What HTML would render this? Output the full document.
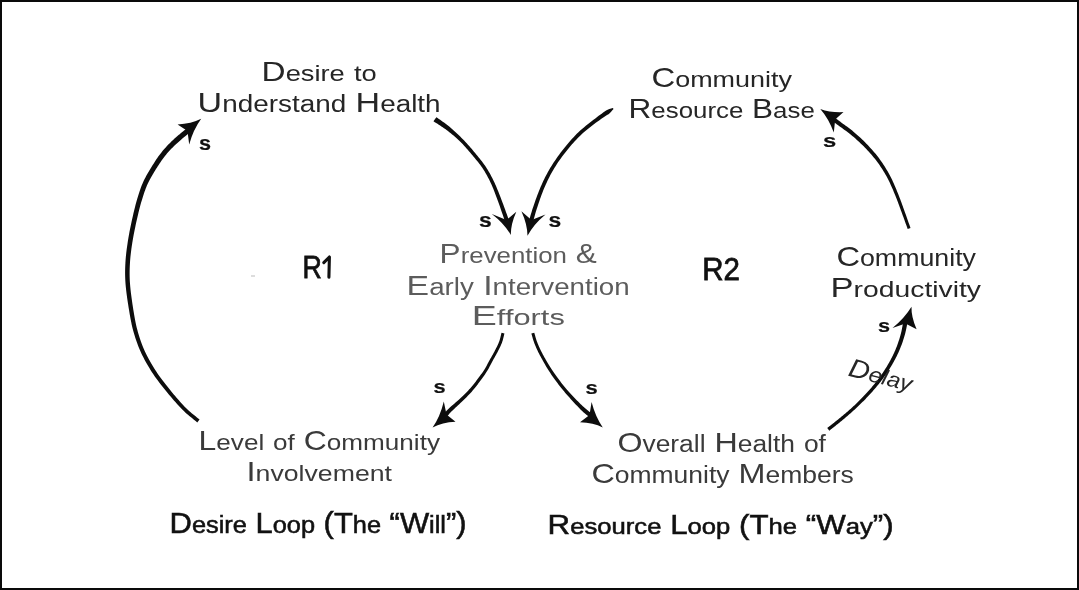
<!DOCTYPE html>
<html><head><meta charset="utf-8"><style>
html,body{margin:0;padding:0;background:#fff;}
body{width:1079px;height:590px;overflow:hidden;position:relative;}
.frame{position:absolute;left:0;top:0;width:1079px;height:590px;box-sizing:border-box;border:2px solid #0a0a0a;}
svg{position:absolute;left:0;top:0;will-change:transform;}
text{font-family:"Liberation Sans",sans-serif;}
</style></head><body>
<div class="frame"></div>
<svg width="1079" height="590" viewBox="0 0 1079 590">
<text x="261.60" y="80.50" font-size="28" font-weight="normal" font-style="normal" fill="#262626" textLength="115.21" lengthAdjust="spacingAndGlyphs">D<tspan font-size="22.96">esire</tspan> <tspan font-size="22.96">to</tspan></text>
<text x="197.60" y="112.00" font-size="28.5" font-weight="normal" font-style="normal" fill="#262626" textLength="243.00" lengthAdjust="spacingAndGlyphs">U<tspan font-size="23.37">nderstand</tspan> H<tspan font-size="23.37">ealth</tspan></text>
<text x="651.40" y="87.20" font-size="28" font-weight="normal" font-style="normal" fill="#262626" textLength="140.58" lengthAdjust="spacingAndGlyphs">C<tspan font-size="22.96">ommunity</tspan></text>
<text x="628.60" y="118.00" font-size="27" font-weight="normal" font-style="normal" fill="#262626" textLength="186.18" lengthAdjust="spacingAndGlyphs">R<tspan font-size="22.14">esource</tspan> B<tspan font-size="22.14">ase</tspan></text>
<text x="439.60" y="263.00" font-size="28" font-weight="normal" font-style="normal" fill="#5c5c5c" textLength="157.22" lengthAdjust="spacingAndGlyphs">P<tspan font-size="22.96">revention</tspan> &amp;</text>
<text x="406.60" y="294.70" font-size="28.5" font-weight="normal" font-style="normal" fill="#5c5c5c" textLength="223.03" lengthAdjust="spacingAndGlyphs">E<tspan font-size="23.37">arly</tspan> I<tspan font-size="23.37">ntervention</tspan></text>
<text x="471.80" y="324.80" font-size="28" font-weight="normal" font-style="normal" fill="#5c5c5c" textLength="93.01" lengthAdjust="spacingAndGlyphs">E<tspan font-size="22.96">fforts</tspan></text>
<text x="836.40" y="265.70" font-size="28.5" font-weight="normal" font-style="normal" fill="#262626" textLength="139.61" lengthAdjust="spacingAndGlyphs">C<tspan font-size="23.37">ommunity</tspan></text>
<text x="830.60" y="297.30" font-size="28" font-weight="normal" font-style="normal" fill="#262626" textLength="150.40" lengthAdjust="spacingAndGlyphs">P<tspan font-size="22.96">roductivity</tspan></text>
<text x="198.60" y="450.20" font-size="28" font-weight="normal" font-style="normal" fill="#3a3a3a" textLength="241.38" lengthAdjust="spacingAndGlyphs">L<tspan font-size="22.96">evel</tspan> <tspan font-size="22.96">of</tspan> C<tspan font-size="22.96">ommunity</tspan></text>
<text x="246.60" y="481.00" font-size="28" font-weight="normal" font-style="normal" fill="#3a3a3a" textLength="145.38" lengthAdjust="spacingAndGlyphs">I<tspan font-size="22.96">nvolvement</tspan></text>
<text x="617.40" y="451.50" font-size="28.5" font-weight="normal" font-style="normal" fill="#3a3a3a" textLength="208.52" lengthAdjust="spacingAndGlyphs">O<tspan font-size="23.37">verall</tspan> H<tspan font-size="23.37">ealth</tspan> <tspan font-size="23.37">of</tspan></text>
<text x="591.40" y="482.60" font-size="28.5" font-weight="normal" font-style="normal" fill="#3a3a3a" textLength="262.41" lengthAdjust="spacingAndGlyphs">C<tspan font-size="23.37">ommunity</tspan> M<tspan font-size="23.37">embers</tspan></text>
<text x="169.60" y="533.00" font-size="29" font-weight="normal" font-style="normal" fill="#111111" stroke="#111111" stroke-width="0.55" textLength="297.00" lengthAdjust="spacingAndGlyphs">D<tspan font-size="23.78">esire</tspan> L<tspan font-size="23.78">oop</tspan> (T<tspan font-size="23.78">he</tspan> “W<tspan font-size="23.78">ill</tspan>”)</text>
<text x="547.60" y="534.30" font-size="28" font-weight="normal" font-style="normal" fill="#111111" stroke="#111111" stroke-width="0.55" textLength="346.03" lengthAdjust="spacingAndGlyphs">R<tspan font-size="22.96">esource</tspan> L<tspan font-size="22.96">oop</tspan> (T<tspan font-size="22.96">he</tspan> “W<tspan font-size="22.96">ay</tspan>”)</text>
<text x="302.50" y="278.00" font-size="32" font-weight="normal" font-style="normal" fill="#111111" stroke="#111111" stroke-width="0.8" textLength="19.29" lengthAdjust="spacingAndGlyphs">R</text>
<text x="702.16" y="279.60" font-size="31" font-weight="normal" font-style="normal" fill="#111111" stroke="#111111" stroke-width="0.8" textLength="37.64" lengthAdjust="spacingAndGlyphs">R2</text>
<text x="199.10" y="150.01" font-size="19.45" font-weight="bold" fill="#111" stroke="#111" stroke-width="0.2" textLength="12.03" lengthAdjust="spacingAndGlyphs">s</text>
<text x="479.10" y="226.61" font-size="19.45" font-weight="bold" fill="#111" stroke="#111" stroke-width="0.2" textLength="12.73" lengthAdjust="spacingAndGlyphs">s</text>
<text x="548.60" y="226.61" font-size="19.45" font-weight="bold" fill="#111" stroke="#111" stroke-width="0.2" textLength="12.73" lengthAdjust="spacingAndGlyphs">s</text>
<text x="433.60" y="393.42" font-size="17.82" font-weight="bold" fill="#111" stroke="#111" stroke-width="0.2" textLength="12.13" lengthAdjust="spacingAndGlyphs">s</text>
<text x="585.40" y="394.41" font-size="18.55" font-weight="bold" fill="#111" stroke="#111" stroke-width="0.2" textLength="12.23" lengthAdjust="spacingAndGlyphs">s</text>
<text x="877.90" y="331.81" font-size="18.55" font-weight="bold" fill="#111" stroke="#111" stroke-width="0.2" textLength="12.03" lengthAdjust="spacingAndGlyphs">s</text>
<text x="822.90" y="146.71" font-size="18.91" font-weight="bold" fill="#111" stroke="#111" stroke-width="0.2" textLength="13.23" lengthAdjust="spacingAndGlyphs">s</text>
<path d="M199.56,419.62 L198.23,418.51 L196.91,417.42 L195.59,416.35 L194.28,415.29 L192.98,414.23 L191.68,413.15 L190.38,412.05 L189.09,410.92 L187.79,409.73 L186.49,408.48 L184.91,406.90 L183.30,405.23 L181.68,403.50 L180.05,401.70 L178.41,399.86 L176.78,397.97 L175.15,396.06 L173.54,394.14 L171.94,392.21 L170.37,390.30 L168.78,388.33 L167.19,386.35 L165.60,384.35 L164.03,382.33 L162.48,380.30 L160.95,378.26 L159.46,376.21 L158.00,374.15 L156.60,372.10 L155.25,370.03 L153.99,368.05 L152.77,366.06 L151.58,364.06 L150.42,362.05 L149.29,360.04 L148.20,358.02 L147.15,355.99 L146.14,353.96 L145.17,351.92 L144.25,349.88 L143.40,347.91 L142.59,345.93 L141.82,343.95 L141.08,341.95 L140.38,339.95 L139.71,337.94 L139.07,335.93 L138.46,333.90 L137.87,331.88 L137.31,329.85 L136.80,327.88 L136.32,325.92 L135.89,323.97 L135.48,322.02 L135.09,320.05 L134.72,318.06 L134.37,316.03 L134.02,313.96 L133.67,311.84 L133.32,309.66 L132.90,306.97 L132.47,304.18 L132.04,301.29 L131.63,298.35 L131.23,295.37 L130.86,292.41 L130.53,289.47 L130.24,286.60 L130.01,283.82 L129.83,281.17 L129.73,279.03 L129.66,276.96 L129.63,274.93 L129.62,272.93 L129.63,270.96 L129.68,269.01 L129.75,267.06 L129.84,265.11 L129.95,263.14 L130.07,261.16 L130.22,259.15 L130.40,257.15 L130.61,255.15 L130.84,253.14 L131.09,251.13 L131.36,249.12 L131.65,247.11 L131.95,245.10 L132.26,243.08 L132.59,241.07 L132.92,239.04 L133.28,237.02 L133.64,234.99 L134.03,232.97 L134.43,230.94 L134.84,228.91 L135.27,226.89 L135.70,224.86 L136.14,222.84 L136.60,220.81 L137.06,218.77 L137.53,216.72 L138.01,214.67 L138.50,212.62 L139.00,210.58 L139.51,208.55 L140.03,206.54 L140.57,204.56 L141.12,202.61 L141.69,200.68 L142.23,198.92 L142.77,197.17 L143.31,195.45 L143.87,193.75 L144.44,192.07 L145.02,190.42 L145.63,188.79 L146.26,187.17 L146.92,185.58 L147.61,184.00 L148.34,182.47 L149.09,180.95 L149.88,179.44 L150.70,177.94 L151.55,176.45 L152.42,174.96 L153.30,173.49 L154.19,172.02 L155.10,170.56 L156.00,169.10 L156.88,167.70 L157.77,166.30 L158.67,164.91 L159.58,163.53 L160.49,162.16 L161.42,160.82 L162.35,159.51 L163.28,158.22 L164.22,156.97 L165.17,155.76 L166.04,154.68 L166.93,153.62 L167.83,152.58 L168.74,151.56 L169.66,150.56 L170.58,149.58 L171.51,148.61 L172.44,147.66 L173.37,146.73 L174.29,145.81 L175.12,145.01 L175.96,144.21 L176.81,143.43 L177.67,142.66 L178.52,141.91 L179.37,141.17 L180.22,140.44 L181.05,139.73 L181.87,139.03 L182.67,138.36 L183.30,137.82 L183.94,137.29 L184.58,136.77 L185.21,136.26 L185.83,135.76 L186.43,135.28 L187.02,134.81 L187.59,134.35 L188.13,133.92 L188.64,133.51 L188.95,133.25 L189.25,133.01 L189.53,132.78 L189.80,132.56 L190.06,132.35 L190.32,132.14 L190.57,131.93 L190.83,131.73 L191.09,131.52 L191.36,131.30 L188.07,127.27 L187.80,127.49 L187.54,127.70 L187.29,127.91 L187.03,128.12 L186.78,128.33 L186.52,128.54 L186.25,128.76 L185.97,128.99 L185.67,129.24 L185.36,129.49 L184.87,129.89 L184.34,130.32 L183.78,130.77 L183.19,131.25 L182.58,131.74 L181.95,132.26 L181.31,132.78 L180.65,133.33 L179.99,133.88 L179.33,134.44 L178.54,135.12 L177.72,135.83 L176.87,136.55 L176.01,137.30 L175.14,138.07 L174.26,138.85 L173.37,139.66 L172.48,140.49 L171.59,141.33 L170.71,142.19 L169.76,143.14 L168.81,144.10 L167.86,145.09 L166.90,146.10 L165.94,147.13 L164.98,148.18 L164.03,149.26 L163.09,150.36 L162.15,151.49 L161.23,152.64 L160.23,153.93 L159.25,155.25 L158.28,156.60 L157.32,157.98 L156.37,159.37 L155.43,160.78 L154.50,162.20 L153.59,163.63 L152.69,165.06 L151.80,166.50 L150.89,167.97 L149.99,169.45 L149.08,170.96 L148.18,172.47 L147.29,174.01 L146.42,175.57 L145.57,177.14 L144.74,178.74 L143.95,180.36 L143.19,182.00 L142.45,183.68 L141.76,185.37 L141.10,187.07 L140.48,188.79 L139.88,190.51 L139.30,192.24 L138.74,193.99 L138.19,195.75 L137.65,197.52 L137.11,199.32 L136.53,201.29 L135.97,203.29 L135.43,205.33 L134.90,207.38 L134.39,209.44 L133.89,211.52 L133.40,213.59 L132.93,215.67 L132.46,217.73 L132.00,219.79 L131.56,221.83 L131.11,223.88 L130.68,225.92 L130.26,227.98 L129.85,230.03 L129.45,232.09 L129.07,234.15 L128.70,236.21 L128.35,238.27 L128.01,240.33 L127.70,242.37 L127.39,244.41 L127.09,246.45 L126.80,248.50 L126.54,250.55 L126.29,252.60 L126.06,254.66 L125.85,256.72 L125.68,258.78 L125.53,260.84 L125.40,262.88 L125.30,264.89 L125.21,266.89 L125.15,268.89 L125.11,270.90 L125.10,272.93 L125.12,274.99 L125.17,277.08 L125.25,279.23 L125.37,281.43 L125.56,284.17 L125.82,287.02 L126.13,289.95 L126.49,292.94 L126.88,295.95 L127.30,298.95 L127.74,301.92 L128.19,304.83 L128.64,307.65 L129.08,310.34 L129.44,312.54 L129.81,314.67 L130.17,316.77 L130.54,318.82 L130.93,320.86 L131.34,322.87 L131.77,324.88 L132.24,326.89 L132.74,328.91 L133.29,330.95 L133.87,333.02 L134.49,335.09 L135.13,337.16 L135.80,339.23 L136.50,341.29 L137.23,343.35 L138.01,345.40 L138.81,347.45 L139.66,349.49 L140.55,351.52 L141.52,353.63 L142.53,355.72 L143.59,357.81 L144.68,359.89 L145.81,361.96 L146.97,364.02 L148.17,366.07 L149.40,368.12 L150.66,370.14 L151.95,372.17 L153.35,374.28 L154.81,376.39 L156.30,378.48 L157.84,380.57 L159.40,382.64 L160.99,384.69 L162.59,386.73 L164.20,388.74 L165.82,390.74 L167.43,392.70 L169.02,394.63 L170.64,396.57 L172.28,398.50 L173.94,400.43 L175.61,402.33 L177.28,404.20 L178.95,406.02 L180.62,407.79 L182.27,409.49 L183.91,411.12 L185.29,412.42 L186.65,413.65 L188.00,414.83 L189.34,415.96 L190.68,417.05 L192.00,418.12 L193.32,419.17 L194.63,420.22 L195.93,421.29 L197.24,422.38Z" fill="#0d0d0d"/>
<path d="M201.20,118.80 Q191.30,123.79 177.60,124.50 L187.50,131.00 L189.20,144.40 Q193.35,129.52 201.20,118.80Z" fill="#0d0d0d"/>
<path d="M433.48,121.26 L434.81,122.13 L436.14,123.00 L437.47,123.85 L438.79,124.70 L440.11,125.54 L441.41,126.39 L442.71,127.26 L444.00,128.14 L445.29,129.05 L446.57,129.99 L447.95,131.06 L449.35,132.16 L450.76,133.28 L452.16,134.44 L453.56,135.61 L454.95,136.81 L456.33,138.03 L457.69,139.26 L459.03,140.50 L460.33,141.77 L461.60,143.05 L462.86,144.36 L464.10,145.69 L465.33,147.03 L466.55,148.40 L467.75,149.77 L468.94,151.15 L470.13,152.54 L471.30,153.92 L472.46,155.31 L473.60,156.67 L474.73,158.02 L475.85,159.38 L476.96,160.73 L478.05,162.09 L479.12,163.45 L480.17,164.82 L481.17,166.19 L482.14,167.56 L483.07,168.95 L483.91,170.26 L484.72,171.57 L485.51,172.89 L486.26,174.21 L487.00,175.53 L487.72,176.88 L488.43,178.24 L489.13,179.62 L489.82,181.03 L490.51,182.46 L491.24,184.02 L491.94,185.61 L492.63,187.22 L493.31,188.85 L493.98,190.51 L494.64,192.19 L495.29,193.90 L495.94,195.63 L496.60,197.39 L497.26,199.16 L498.02,201.24 L498.82,203.48 L499.65,205.84 L500.48,208.24 L501.30,210.63 L502.09,212.95 L502.83,215.12 L503.49,217.09 L504.08,218.81 L504.55,220.19 L504.71,220.64 L504.85,221.04 L504.97,221.40 L505.08,221.72 L505.19,222.03 L505.29,222.32 L505.39,222.60 L505.49,222.89 L505.59,223.18 L505.70,223.50 L509.65,222.09 L509.54,221.77 L509.43,221.48 L509.33,221.19 L509.22,220.91 L509.12,220.62 L509.01,220.32 L508.89,220.00 L508.76,219.64 L508.61,219.25 L508.45,218.81 L507.95,217.44 L507.34,215.75 L506.64,213.79 L505.86,211.63 L505.03,209.32 L504.16,206.94 L503.28,204.54 L502.40,202.18 L501.55,199.92 L500.74,197.84 L500.04,196.07 L499.35,194.32 L498.67,192.59 L497.99,190.87 L497.30,189.17 L496.61,187.49 L495.91,185.82 L495.19,184.17 L494.45,182.55 L493.69,180.94 L492.98,179.48 L492.26,178.05 L491.54,176.63 L490.80,175.24 L490.05,173.86 L489.28,172.49 L488.49,171.13 L487.67,169.77 L486.82,168.41 L485.93,167.05 L484.95,165.62 L483.94,164.19 L482.89,162.78 L481.83,161.37 L480.74,159.97 L479.63,158.58 L478.52,157.20 L477.39,155.82 L476.26,154.45 L475.14,153.09 L473.97,151.69 L472.80,150.28 L471.61,148.87 L470.41,147.46 L469.20,146.06 L467.97,144.67 L466.72,143.28 L465.45,141.91 L464.17,140.56 L462.87,139.23 L461.55,137.92 L460.23,136.59 L458.89,135.27 L457.53,133.97 L456.17,132.68 L454.79,131.42 L453.40,130.17 L452.01,128.96 L450.62,127.77 L449.23,126.61 L447.93,125.55 L446.63,124.54 L445.32,123.56 L444.02,122.61 L442.72,121.69 L441.43,120.77 L440.14,119.87 L438.87,118.97 L437.60,118.07 L436.32,117.14Z" fill="#0d0d0d"/>
<path d="M510.80,234.90 Q504.29,223.59 491.80,214.00 L506.50,220.00 L516.30,211.70 Q510.74,224.11 510.80,234.90Z" fill="#0d0d0d"/>
<path d="M612.86,107.90 L611.10,108.50 L609.36,109.08 L607.62,109.65 L606.09,110.54 L604.63,111.55 L603.16,112.58 L601.68,113.64 L600.18,114.72 L598.66,115.85 L597.13,117.02 L595.34,118.40 L593.49,119.82 L591.59,121.27 L589.67,122.75 L587.74,124.27 L585.81,125.82 L583.90,127.40 L582.03,129.00 L580.20,130.62 L578.44,132.26 L576.78,133.87 L575.17,135.50 L573.59,137.14 L572.05,138.81 L570.53,140.50 L569.05,142.21 L567.58,143.93 L566.14,145.67 L564.72,147.43 L563.31,149.20 L561.90,151.01 L560.51,152.85 L559.13,154.71 L557.76,156.58 L556.41,158.48 L555.09,160.38 L553.80,162.30 L552.55,164.22 L551.33,166.15 L550.15,168.08 L549.07,169.93 L548.02,171.78 L547.01,173.63 L546.04,175.49 L545.09,177.35 L544.17,179.23 L543.27,181.11 L542.39,183.01 L541.53,184.93 L540.68,186.86 L539.81,188.90 L538.96,191.01 L538.12,193.15 L537.30,195.32 L536.50,197.47 L535.73,199.61 L534.99,201.70 L534.29,203.72 L533.63,205.65 L533.01,207.48 L532.57,208.79 L532.15,210.10 L531.75,211.38 L531.36,212.64 L531.00,213.85 L530.66,215.02 L530.34,216.11 L530.04,217.14 L529.76,218.07 L529.51,218.91 L529.38,219.32 L529.27,219.70 L529.16,220.06 L529.06,220.39 L528.96,220.70 L528.87,221.01 L528.78,221.31 L528.68,221.62 L528.59,221.93 L528.49,222.25 L532.51,223.45 L532.61,223.13 L532.70,222.81 L532.79,222.51 L532.88,222.21 L532.96,221.90 L533.06,221.58 L533.15,221.25 L533.26,220.89 L533.37,220.51 L533.49,220.09 L533.74,219.23 L534.01,218.27 L534.29,217.24 L534.60,216.14 L534.92,214.99 L535.26,213.79 L535.62,212.55 L535.99,211.29 L536.39,210.01 L536.79,208.72 L537.38,206.91 L538.02,204.98 L538.69,202.97 L539.39,200.89 L540.12,198.77 L540.88,196.63 L541.67,194.50 L542.47,192.39 L543.29,190.33 L544.12,188.34 L544.94,186.43 L545.78,184.55 L546.63,182.68 L547.49,180.82 L548.38,178.98 L549.29,177.16 L550.23,175.34 L551.20,173.53 L552.21,171.72 L553.25,169.92 L554.38,168.03 L555.56,166.14 L556.77,164.25 L558.02,162.37 L559.30,160.49 L560.61,158.63 L561.95,156.79 L563.32,154.97 L564.70,153.17 L566.09,151.40 L567.49,149.66 L568.90,147.94 L570.32,146.24 L571.77,144.56 L573.23,142.90 L574.72,141.26 L576.24,139.65 L577.78,138.05 L579.36,136.48 L580.96,134.94 L582.68,133.36 L584.46,131.80 L586.29,130.25 L588.16,128.72 L590.06,127.21 L591.97,125.73 L593.88,124.28 L595.77,122.86 L597.64,121.49 L599.47,120.18 L601.01,119.10 L602.53,118.06 L604.03,117.05 L605.53,116.08 L607.02,115.12 L608.50,114.16 L609.91,113.10 L611.12,111.71 L612.33,110.32 L613.54,108.90Z" fill="#0d0d0d"/>
<path d="M527.50,235.80 Q527.35,224.23 521.40,211.20 L531.50,220.00 L545.50,214.50 Q533.54,224.40 527.50,235.80Z" fill="#0d0d0d"/>
<path d="M501.55,332.72 L501.31,333.62 L501.09,334.53 L500.87,335.43 L500.66,336.32 L500.44,337.21 L500.22,338.09 L499.99,338.95 L499.74,339.81 L499.48,340.65 L499.19,341.49 L498.86,342.34 L498.52,343.20 L498.15,344.06 L497.76,344.91 L497.35,345.77 L496.93,346.63 L496.50,347.49 L496.06,348.36 L495.61,349.24 L495.17,350.11 L494.70,351.02 L494.22,351.92 L493.73,352.82 L493.22,353.72 L492.71,354.63 L492.19,355.54 L491.67,356.46 L491.14,357.39 L490.61,358.32 L490.07,359.27 L489.52,360.28 L488.97,361.30 L488.43,362.32 L487.88,363.35 L487.34,364.37 L486.79,365.39 L486.23,366.40 L485.66,367.41 L485.08,368.40 L484.48,369.38 L483.83,370.38 L483.17,371.38 L482.50,372.38 L481.80,373.38 L481.10,374.37 L480.38,375.36 L479.65,376.36 L478.91,377.35 L478.17,378.34 L477.41,379.33 L476.63,380.35 L475.85,381.38 L475.06,382.39 L474.26,383.41 L473.46,384.42 L472.64,385.42 L471.82,386.42 L470.98,387.41 L470.12,388.40 L469.25,389.37 L468.31,390.39 L467.34,391.40 L466.36,392.41 L465.35,393.41 L464.33,394.42 L463.30,395.42 L462.25,396.42 L461.19,397.42 L460.13,398.41 L459.06,399.40 L457.95,400.43 L456.76,401.49 L455.53,402.57 L454.28,403.66 L453.04,404.75 L451.82,405.80 L450.67,406.82 L449.59,407.79 L448.62,408.68 L447.78,409.49 L447.38,409.90 L447.03,410.27 L446.71,410.62 L446.42,410.95 L446.15,411.26 L445.90,411.55 L445.66,411.84 L445.42,412.11 L445.19,412.38 L444.95,412.66 L444.71,412.92 L444.47,413.19 L444.24,413.45 L444.00,413.71 L443.77,413.97 L443.54,414.23 L443.31,414.48 L443.08,414.74 L442.85,415.00 L442.62,415.26 L445.78,418.02 L446.01,417.75 L446.23,417.49 L446.46,417.22 L446.68,416.96 L446.91,416.70 L447.13,416.43 L447.36,416.17 L447.58,415.90 L447.81,415.62 L448.05,415.34 L448.31,415.03 L448.56,414.73 L448.80,414.43 L449.03,414.15 L449.26,413.86 L449.49,413.58 L449.74,413.28 L450.01,412.97 L450.30,412.65 L450.62,412.31 L451.38,411.53 L452.27,410.66 L453.29,409.70 L454.40,408.66 L455.57,407.58 L456.79,406.47 L458.02,405.33 L459.24,404.20 L460.42,403.08 L461.54,402.00 L462.58,400.97 L463.62,399.95 L464.67,398.93 L465.71,397.90 L466.75,396.88 L467.78,395.84 L468.80,394.80 L469.81,393.75 L470.79,392.69 L471.75,391.63 L472.65,390.60 L473.52,389.57 L474.38,388.54 L475.22,387.51 L476.04,386.47 L476.85,385.43 L477.65,384.39 L478.43,383.35 L479.21,382.31 L479.99,381.27 L480.73,380.26 L481.48,379.25 L482.22,378.24 L482.95,377.22 L483.68,376.20 L484.39,375.18 L485.10,374.15 L485.79,373.12 L486.46,372.07 L487.12,371.02 L487.75,369.99 L488.35,368.95 L488.93,367.90 L489.50,366.85 L490.05,365.81 L490.59,364.77 L491.13,363.74 L491.66,362.72 L492.19,361.72 L492.73,360.73 L493.24,359.80 L493.76,358.87 L494.28,357.94 L494.80,357.02 L495.32,356.11 L495.84,355.19 L496.35,354.27 L496.86,353.34 L497.35,352.41 L497.83,351.49 L498.29,350.60 L498.73,349.72 L499.18,348.84 L499.62,347.96 L500.05,347.07 L500.48,346.17 L500.89,345.27 L501.28,344.36 L501.66,343.44 L502.01,342.51 L502.33,341.59 L502.62,340.67 L502.88,339.75 L503.13,338.84 L503.35,337.93 L503.57,337.03 L503.79,336.13 L504.00,335.24 L504.22,334.36 L504.45,333.48Z" fill="#0d0d0d"/>
<path d="M432.60,427.40 Q440.15,416.50 443.80,401.40 L446.50,414.50 L455.50,421.80 Q442.10,422.50 432.60,427.40Z" fill="#0d0d0d"/>
<path d="M531.36,333.53 L531.63,334.41 L531.88,335.30 L532.13,336.19 L532.39,337.08 L532.64,337.98 L532.91,338.88 L533.18,339.79 L533.47,340.70 L533.77,341.61 L534.09,342.51 L534.43,343.42 L534.78,344.33 L535.15,345.23 L535.52,346.12 L535.90,347.01 L536.30,347.90 L536.70,348.79 L537.11,349.68 L537.52,350.56 L537.95,351.45 L538.40,352.38 L538.87,353.31 L539.34,354.24 L539.83,355.16 L540.32,356.09 L540.82,357.01 L541.33,357.94 L541.84,358.87 L542.36,359.80 L542.88,360.74 L543.45,361.76 L544.03,362.78 L544.62,363.81 L545.21,364.84 L545.82,365.88 L546.44,366.92 L547.06,367.96 L547.70,368.99 L548.34,370.02 L548.99,371.05 L549.67,372.09 L550.35,373.12 L551.04,374.15 L551.74,375.17 L552.45,376.19 L553.17,377.21 L553.90,378.23 L554.63,379.24 L555.37,380.25 L556.11,381.26 L556.88,382.30 L557.66,383.34 L558.45,384.38 L559.25,385.42 L560.06,386.45 L560.87,387.48 L561.69,388.51 L562.52,389.54 L563.37,390.57 L564.22,391.59 L565.10,392.64 L566.00,393.69 L566.91,394.74 L567.83,395.78 L568.75,396.82 L569.68,397.86 L570.62,398.89 L571.55,399.91 L572.48,400.92 L573.40,401.93 L574.30,402.91 L575.21,403.89 L576.14,404.88 L577.07,405.87 L578.00,406.85 L578.92,407.80 L579.83,408.73 L580.73,409.63 L581.60,410.48 L582.45,411.29 L583.08,411.88 L583.72,412.44 L584.34,412.98 L584.95,413.50 L585.54,414.00 L586.12,414.47 L586.67,414.93 L587.19,415.36 L587.68,415.76 L588.14,416.16 L588.44,416.41 L588.73,416.66 L589.01,416.89 L589.27,417.12 L589.53,417.34 L589.78,417.55 L590.03,417.77 L590.28,417.98 L590.54,418.20 L590.80,418.42 L593.60,415.03 L593.33,414.81 L593.07,414.61 L592.81,414.40 L592.55,414.20 L592.29,413.99 L592.03,413.78 L591.76,413.56 L591.47,413.34 L591.18,413.10 L590.86,412.84 L590.36,412.45 L589.83,412.05 L589.29,411.63 L588.72,411.20 L588.15,410.75 L587.56,410.30 L586.97,409.82 L586.36,409.34 L585.76,408.83 L585.15,408.31 L584.32,407.57 L583.45,406.78 L582.56,405.94 L581.64,405.07 L580.70,404.16 L579.76,403.24 L578.81,402.30 L577.86,401.35 L576.92,400.40 L576.00,399.47 L575.05,398.50 L574.11,397.52 L573.17,396.53 L572.24,395.52 L571.31,394.51 L570.38,393.50 L569.47,392.48 L568.56,391.45 L567.67,390.43 L566.78,389.41 L565.94,388.42 L565.10,387.42 L564.27,386.42 L563.45,385.41 L562.64,384.40 L561.83,383.40 L561.03,382.38 L560.24,381.37 L559.46,380.35 L558.69,379.34 L557.94,378.35 L557.20,377.35 L556.47,376.36 L555.75,375.36 L555.04,374.37 L554.33,373.37 L553.64,372.37 L552.95,371.37 L552.27,370.36 L551.61,369.35 L550.96,368.36 L550.33,367.35 L549.70,366.34 L549.07,365.33 L548.46,364.31 L547.85,363.29 L547.26,362.28 L546.67,361.26 L546.09,360.26 L545.52,359.26 L544.99,358.33 L544.47,357.41 L543.96,356.49 L543.45,355.58 L542.96,354.67 L542.48,353.76 L542.01,352.86 L541.54,351.96 L541.09,351.05 L540.65,350.15 L540.23,349.28 L539.83,348.41 L539.43,347.54 L539.03,346.68 L538.65,345.81 L538.28,344.95 L537.92,344.09 L537.57,343.22 L537.23,342.35 L536.91,341.49 L536.61,340.63 L536.32,339.77 L536.05,338.90 L535.78,338.03 L535.53,337.15 L535.27,336.26 L535.02,335.37 L534.77,334.47 L534.50,333.57 L534.24,332.67Z" fill="#0d0d0d"/>
<path d="M602.80,427.40 Q595.33,416.70 591.60,402.00 L589.50,415.00 L580.00,422.30 Q593.41,422.69 602.80,427.40Z" fill="#0d0d0d"/>
<path d="M829.35,430.63 L830.16,429.99 L830.97,429.35 L831.78,428.71 L832.59,428.07 L833.40,427.43 L834.21,426.79 L835.02,426.15 L835.83,425.50 L836.64,424.85 L837.44,424.20 L838.26,423.55 L839.07,422.89 L839.88,422.24 L840.70,421.58 L841.51,420.91 L842.32,420.25 L843.13,419.58 L843.94,418.91 L844.75,418.23 L845.56,417.55 L846.36,416.87 L847.16,416.19 L847.96,415.50 L848.76,414.81 L849.55,414.11 L850.34,413.41 L851.13,412.71 L851.92,412.01 L852.70,411.30 L853.48,410.59 L854.26,409.88 L855.03,409.16 L855.80,408.44 L856.57,407.72 L857.34,407.00 L858.11,406.28 L858.87,405.55 L859.63,404.82 L860.38,404.09 L861.14,403.35 L861.89,402.62 L862.64,401.87 L863.38,401.13 L864.12,400.38 L864.86,399.63 L865.60,398.88 L866.33,398.12 L867.06,397.36 L867.79,396.59 L868.51,395.82 L869.22,395.05 L869.93,394.28 L870.64,393.51 L871.35,392.73 L872.05,391.95 L872.74,391.16 L873.43,390.37 L874.12,389.58 L874.81,388.78 L875.49,387.98 L876.16,387.17 L876.84,386.36 L877.51,385.54 L878.18,384.72 L878.84,383.90 L879.50,383.07 L880.15,382.24 L880.80,381.41 L881.44,380.57 L882.08,379.73 L882.71,378.89 L883.33,378.04 L883.94,377.20 L884.56,376.35 L885.16,375.50 L885.76,374.64 L886.35,373.78 L886.94,372.91 L887.52,372.04 L888.10,371.16 L888.67,370.28 L889.23,369.40 L889.79,368.51 L890.34,367.62 L890.89,366.72 L891.42,365.82 L891.96,364.92 L892.48,364.01 L893.00,363.10 L893.51,362.18 L894.02,361.27 L894.51,360.35 L895.00,359.43 L895.49,358.51 L895.96,357.58 L896.43,356.65 L896.90,355.71 L897.35,354.77 L897.80,353.83 L898.23,352.88 L898.66,351.92 L899.09,350.96 L899.50,350.00 L899.91,349.03 L900.31,348.06 L900.70,347.09 L901.08,346.11 L901.46,345.13 L901.82,344.14 L902.18,343.15 L902.53,342.14 L902.87,341.13 L903.21,340.12 L903.54,339.10 L903.86,338.07 L904.17,337.04 L904.47,336.01 L904.76,334.98 L905.04,333.94 L905.32,332.90 L905.59,331.81 L905.85,330.69 L906.10,329.55 L906.34,328.40 L906.57,327.27 L906.79,326.16 L906.99,325.11 L907.18,324.12 L907.36,323.22 L907.53,322.42 L907.61,322.01 L907.70,321.63 L907.77,321.27 L907.84,320.93 L907.91,320.60 L907.98,320.29 L908.04,319.97 L908.11,319.66 L908.18,319.34 L908.25,319.00 L903.94,318.13 L903.87,318.47 L903.81,318.79 L903.75,319.11 L903.69,319.42 L903.63,319.74 L903.56,320.06 L903.50,320.40 L903.43,320.76 L903.35,321.15 L903.27,321.58 L903.12,322.40 L902.95,323.33 L902.77,324.32 L902.59,325.37 L902.39,326.47 L902.18,327.58 L901.97,328.70 L901.75,329.80 L901.52,330.88 L901.28,331.90 L901.04,332.90 L900.78,333.91 L900.52,334.91 L900.24,335.91 L899.96,336.91 L899.67,337.91 L899.37,338.90 L899.06,339.89 L898.75,340.87 L898.42,341.85 L898.09,342.81 L897.76,343.77 L897.41,344.73 L897.06,345.68 L896.70,346.63 L896.33,347.58 L895.95,348.52 L895.56,349.46 L895.17,350.39 L894.77,351.32 L894.36,352.25 L893.93,353.17 L893.51,354.08 L893.07,355.00 L892.62,355.91 L892.17,356.81 L891.71,357.72 L891.24,358.62 L890.77,359.52 L890.29,360.42 L889.80,361.31 L889.30,362.21 L888.80,363.10 L888.29,363.98 L887.78,364.87 L887.25,365.75 L886.72,366.63 L886.19,367.50 L885.65,368.37 L885.10,369.24 L884.55,370.10 L884.00,370.95 L883.43,371.80 L882.86,372.65 L882.29,373.50 L881.70,374.34 L881.12,375.18 L880.52,376.01 L879.92,376.84 L879.32,377.67 L878.71,378.50 L878.09,379.33 L877.46,380.16 L876.83,380.98 L876.18,381.79 L875.54,382.60 L874.89,383.41 L874.23,384.22 L873.57,385.02 L872.91,385.82 L872.25,386.61 L871.58,387.40 L870.91,388.18 L870.23,388.96 L869.55,389.74 L868.87,390.51 L868.18,391.28 L867.49,392.05 L866.79,392.82 L866.09,393.58 L865.39,394.34 L864.68,395.09 L863.96,395.85 L863.24,396.60 L862.52,397.35 L861.80,398.09 L861.07,398.84 L860.33,399.58 L859.60,400.31 L858.86,401.05 L858.12,401.78 L857.38,402.51 L856.63,403.23 L855.88,403.95 L855.13,404.67 L854.38,405.39 L853.62,406.10 L852.85,406.81 L852.09,407.51 L851.32,408.21 L850.54,408.91 L849.77,409.60 L848.98,410.29 L848.20,410.98 L847.41,411.66 L846.62,412.34 L845.83,413.02 L845.04,413.70 L844.24,414.37 L843.44,415.05 L842.65,415.71 L841.84,416.37 L841.04,417.03 L840.23,417.69 L839.42,418.34 L838.61,419.00 L837.80,419.65 L836.98,420.30 L836.17,420.95 L835.36,421.60 L834.55,422.24 L833.74,422.88 L832.93,423.51 L832.12,424.15 L831.31,424.79 L830.50,425.42 L829.69,426.06 L828.87,426.69 L828.06,427.33 L827.25,427.97Z" fill="#0d0d0d"/>
<path d="M911.50,306.80 Q904.48,318.31 892.50,328.00 L905.40,323.50 L916.60,329.20 Q911.12,316.93 911.50,306.80Z" fill="#0d0d0d"/>
<path d="M910.51,227.99 L909.91,226.29 L909.30,224.59 L908.70,222.88 L908.10,221.17 L907.49,219.46 L906.89,217.76 L906.28,216.05 L905.68,214.35 L905.07,212.65 L904.46,210.97 L903.86,209.33 L903.28,207.69 L902.70,206.07 L902.11,204.45 L901.53,202.82 L900.93,201.20 L900.32,199.56 L899.70,197.92 L899.05,196.27 L898.39,194.60 L897.66,192.79 L896.92,190.97 L896.17,189.12 L895.40,187.26 L894.61,185.39 L893.80,183.53 L892.96,181.67 L892.10,179.82 L891.21,178.00 L890.30,176.21 L889.37,174.48 L888.42,172.77 L887.45,171.07 L886.46,169.39 L885.44,167.72 L884.41,166.07 L883.35,164.43 L882.26,162.82 L881.16,161.22 L880.04,159.64 L878.90,158.10 L877.74,156.59 L876.56,155.09 L875.36,153.62 L874.14,152.16 L872.90,150.72 L871.64,149.29 L870.36,147.88 L869.07,146.48 L867.77,145.09 L866.41,143.68 L865.02,142.26 L863.60,140.86 L862.16,139.47 L860.71,138.09 L859.25,136.74 L857.79,135.42 L856.34,134.13 L854.90,132.88 L853.47,131.67 L852.19,130.61 L850.87,129.57 L849.55,128.55 L848.22,127.56 L846.92,126.60 L845.65,125.67 L844.43,124.79 L843.27,123.96 L842.20,123.17 L841.23,122.45 L840.66,122.02 L840.12,121.61 L839.60,121.22 L839.10,120.84 L838.63,120.48 L838.17,120.13 L837.72,119.80 L837.29,119.47 L836.87,119.15 L836.45,118.83 L836.14,118.60 L835.84,118.37 L835.56,118.16 L835.28,117.95 L835.01,117.74 L834.74,117.54 L834.47,117.34 L834.21,117.13 L833.94,116.93 L833.66,116.72 L831.14,120.08 L831.42,120.29 L831.69,120.49 L831.96,120.69 L832.23,120.89 L832.50,121.09 L832.77,121.29 L833.05,121.50 L833.34,121.71 L833.64,121.94 L833.95,122.17 L834.37,122.48 L834.79,122.80 L835.23,123.12 L835.68,123.45 L836.14,123.80 L836.62,124.15 L837.12,124.52 L837.64,124.91 L838.19,125.32 L838.77,125.75 L839.78,126.49 L840.88,127.28 L842.05,128.11 L843.27,128.98 L844.54,129.88 L845.83,130.81 L847.13,131.77 L848.42,132.75 L849.69,133.73 L850.93,134.73 L852.32,135.90 L853.74,137.11 L855.18,138.36 L856.62,139.64 L858.06,140.95 L859.50,142.28 L860.92,143.63 L862.32,144.99 L863.69,146.35 L865.03,147.71 L866.33,149.06 L867.61,150.42 L868.88,151.79 L870.12,153.16 L871.35,154.55 L872.55,155.96 L873.74,157.38 L874.90,158.82 L876.04,160.28 L877.16,161.76 L878.27,163.27 L879.36,164.82 L880.43,166.38 L881.48,167.96 L882.50,169.56 L883.51,171.17 L884.49,172.81 L885.45,174.45 L886.39,176.12 L887.30,177.79 L888.21,179.52 L889.09,181.28 L889.94,183.07 L890.77,184.88 L891.58,186.70 L892.38,188.54 L893.16,190.37 L893.92,192.20 L894.67,194.02 L895.41,195.80 L896.08,197.45 L896.73,199.07 L897.35,200.69 L897.96,202.30 L898.56,203.91 L899.16,205.52 L899.75,207.14 L900.34,208.76 L900.94,210.39 L901.54,212.03 L902.16,213.71 L902.78,215.40 L903.39,217.09 L904.01,218.79 L904.62,220.49 L905.23,222.19 L905.85,223.90 L906.46,225.60 L907.07,227.31 L907.69,229.01Z" fill="#0d0d0d"/>
<path d="M820.30,108.90 Q830.31,112.72 843.50,112.10 L835.20,119.60 L833.80,132.60 Q828.71,118.44 820.30,108.90Z" fill="#0d0d0d"/>
<path d="M323.8,262.6 L329.4,257.0 L328.9,277.1" fill="none" stroke="#111" stroke-width="3.1" stroke-linecap="round" stroke-linejoin="round"/>
<text transform="translate(847.2,375.6) rotate(14)" font-size="26" font-style="italic" fill="#262626" textLength="65" lengthAdjust="spacingAndGlyphs">D<tspan font-size="21.5">elay</tspan></text>
<line x1="251" y1="276" x2="255" y2="276" stroke="#bbb" stroke-width="1"/>
</svg>
</body></html>
